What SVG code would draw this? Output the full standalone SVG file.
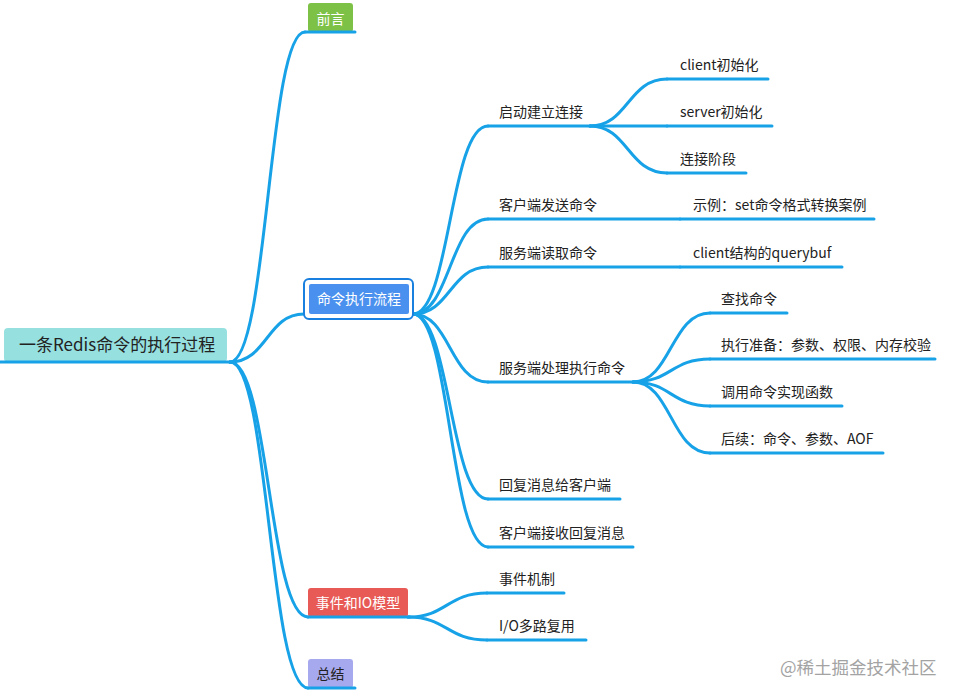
<svg xmlns="http://www.w3.org/2000/svg" width="960" height="698" viewBox="0 0 960 698">
<style>
text{font-family:"Noto Sans CJK SC","Liberation Sans",sans-serif;font-size:14px;fill:#222}
.w{fill:#fff}
.c{text-anchor:middle}
.ln{fill:none;stroke:#17a2e8;stroke-width:3;stroke-linecap:round}
.wm{fill:#a3a3a3;font-size:17.5px}
</style>
<rect width="960" height="698" fill="#fff"/>
<g id="connectors">
<path class="ln" d="M230,362 C268,362 268,32 305,32"/>
<path class="ln" d="M230,362 C267,362 267,314 304,314"/>
<path class="ln" d="M230,362 C269,362 269,617 308,617"/>
<path class="ln" d="M230,362 C269,362 269,688 308,688"/>
<path class="ln" d="M413,314 C450,314 450,126 488,126"/>
<path class="ln" d="M413,314 C450,314 450,219 488,219"/>
<path class="ln" d="M413,314 C450,314 450,267 488,267"/>
<path class="ln" d="M413,314 C450,314 450,382 488,382"/>
<path class="ln" d="M413,314 C450,314 450,499 488,499"/>
<path class="ln" d="M413,314 C450,314 450,547 488,547"/>
<path class="ln" d="M590,126 C628,126 628,79 667,79"/>
<path class="ln" d="M590,126 L667,126"/>
<path class="ln" d="M590,126 C628,126 628,173 667,173"/>
<path class="ln" d="M633,382 C671,382 671,313 710,313"/>
<path class="ln" d="M633,382 C671,382 671,359 710,359"/>
<path class="ln" d="M633,382 C671,382 671,406 710,406"/>
<path class="ln" d="M633,382 C671,382 671,453 710,453"/>
<path class="ln" d="M408,617 C447,617 447,593 487,593"/>
<path class="ln" d="M408,617 C447,617 447,640 487,640"/>
<path class="ln" d="M680,219 L874,219"/>
<path class="ln" d="M680,267 L842,267"/>
</g>
<g id="root">
<rect x="4" y="328" width="223" height="34" rx="4" fill="#96e0e0"/>
<line class="ln" x1="0" y1="362" x2="230" y2="362"/>
<text x="19" y="351" style="font-size:17px">一条Redis命令的执行过程</text>
</g>
<g id="n-qianyan">
<rect x="308" y="3" width="45" height="29" rx="3" fill="#7dc146"/>
<line class="ln" x1="305" y1="32" x2="355" y2="32"/>
<text class="w c" x="330.5" y="24">前言</text>
</g>
<g id="n-flow">
<rect x="304" y="279" width="109" height="40" rx="5" fill="#fff" stroke="#1a80e0" stroke-width="2"/>
<rect x="309" y="284" width="100" height="30" rx="2" fill="#4a90ee"/>
<text class="w c" x="359" y="304">命令执行流程</text>
</g>
<g id="n-event">
<rect x="308" y="588" width="100" height="29" rx="3" fill="#e85a55"/>
<line class="ln" x1="308" y1="617" x2="410" y2="617"/>
<text class="w c" x="358" y="608">事件和IO模型</text>
</g>
<g id="n-summary">
<rect x="308" y="659" width="45" height="29" rx="3" fill="#a7a9ef"/>
<line class="ln" x1="308" y1="688" x2="355" y2="688"/>
<text class="c" x="330.5" y="679">总结</text>
</g>
<g id="n-start">
<line class="ln" x1="488" y1="126" x2="590" y2="126"/>
<text x="499" y="117">启动建立连接</text>
</g>
<g id="n-client-init">
<line class="ln" x1="667" y1="79" x2="768" y2="79"/>
<text x="680" y="70">client初始化</text>
</g>
<g id="n-server-init">
<line class="ln" x1="667" y1="126" x2="772" y2="126"/>
<text x="680" y="117">server初始化</text>
</g>
<g id="n-conn">
<line class="ln" x1="667" y1="173" x2="746" y2="173"/>
<text x="680" y="164">连接阶段</text>
</g>
<g id="n-send">
<line class="ln" x1="488" y1="219" x2="680" y2="219"/>
<text x="499" y="210">客户端发送命令</text>
</g>
<g id="n-example">
<text x="693" y="210">示例：set命令格式转换案例</text>
</g>
<g id="n-read">
<line class="ln" x1="488" y1="267" x2="680" y2="267"/>
<text x="499" y="258">服务端读取命令</text>
</g>
<g id="n-querybuf">
<text x="693" y="258">client结构的querybuf</text>
</g>
<g id="n-exec">
<line class="ln" x1="488" y1="382" x2="633" y2="382"/>
<text x="499" y="373">服务端处理执行命令</text>
</g>
<g id="n-find">
<line class="ln" x1="710" y1="313" x2="787" y2="313"/>
<text x="721" y="304">查找命令</text>
</g>
<g id="n-prepare">
<line class="ln" x1="710" y1="359" x2="935" y2="359"/>
<text x="721" y="350">执行准备：参数、权限、内存校验</text>
</g>
<g id="n-call">
<line class="ln" x1="710" y1="406" x2="842" y2="406"/>
<text x="721" y="397">调用命令实现函数</text>
</g>
<g id="n-after">
<line class="ln" x1="710" y1="453" x2="883" y2="453"/>
<text x="721" y="444">后续：命令、参数、AOF</text>
</g>
<g id="n-reply">
<line class="ln" x1="488" y1="499" x2="620" y2="499"/>
<text x="499" y="490">回复消息给客户端</text>
</g>
<g id="n-recv">
<line class="ln" x1="488" y1="547" x2="633" y2="547"/>
<text x="499" y="538">客户端接收回复消息</text>
</g>
<g id="n-mech">
<line class="ln" x1="487" y1="593" x2="564" y2="593"/>
<text x="499" y="584">事件机制</text>
</g>
<g id="n-io">
<line class="ln" x1="487" y1="640" x2="586" y2="640"/>
<text x="499" y="631">I/O多路复用</text>
</g>
<text class="wm" x="780" y="674">@稀土掘金技术社区</text>
</svg>
